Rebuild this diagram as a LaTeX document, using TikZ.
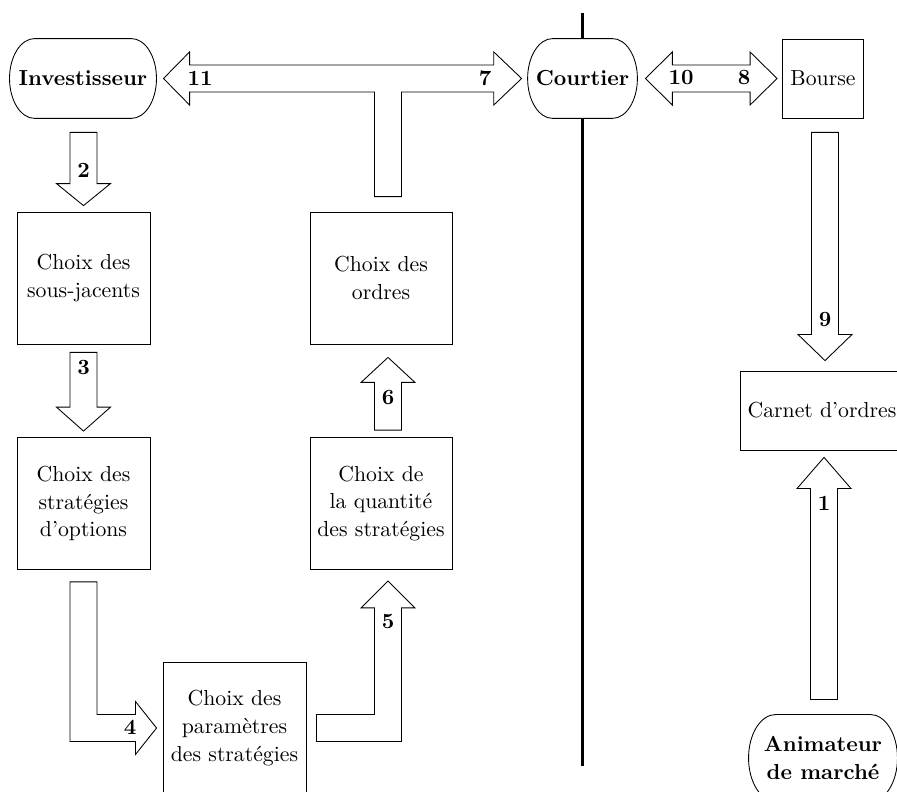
\documentclass[tikz,border=0pt]{standalone}
\usetikzlibrary{calc}
\tikzset{
  box/.style={draw, align=center, inner sep=0.333em, font=\fontsize{10}{12.8}\selectfont},
  term/.style={align=center, inner sep=0.333em, font=\bfseries\fontsize{10}{12.8}\selectfont},
  blk/.style={draw, line width=0.4pt, fill=white, line join=miter},
  num/.style={font=\bfseries, inner sep=1pt},
  sepline/.style={line width=1.8pt},
}
\newcommand\termline[2]{%
  \draw let \p1=(#1.north east), \p2=(#1.south west), \n1={(\y1-\y2)/2} in
    (\x2+#2,\y1) -- (\x1-#2,\y1)
    arc[start angle=90, end angle=-90, x radius=#2, y radius={\n1*1pt}]
    -- (\x2+#2,\y2)
    arc[start angle=270, end angle=90, x radius=#2, y radius={\n1*1pt}] -- cycle;}
\newcommand\blkv[3]{%
  \draw[blk] let \p1=(#1), \p2=(#2) in
    (\x2-6.2pt,\y1) -- (\x2-6.2pt,\y2#3) -- (\x2-12.4pt,\y2#3) -- (\p2)
    -- (\x2+12.4pt,\y2#3) -- (\x2+6.2pt,\y2#3) -- (\x2+6.2pt,\y1) -- cycle;}
\begin{document}
\begin{tikzpicture}[x=0.46pt, y=-0.46pt]
\clip (0,0) rectangle (897,792);
\useasboundingbox (0,0) rectangle (897,792);

% nodes
\node[term, minimum width=67.2pt, minimum height=36.3pt] (inv) at (83,78.5) {Investisseur};
\node[term, minimum width=50.1pt, minimum height=36.3pt] (court) at (582.5,78.5) {Courtier};
\node[box, minimum width=37.3pt, minimum height=36.3pt] (bourse) at (823,78.5) {Bourse};
\node[box, minimum width=61.2pt, minimum height=60.7pt] (sj) at (83.5,278) {Choix des\\sous-jacents};
\node[box, minimum width=61.2pt, minimum height=60.7pt] (opt) at (83.5,503.5) {Choix des\\stratégies\\d’options};
\node[box, minimum width=65.3pt, minimum height=60.7pt] (ord) at (381,278) {Choix des\\ordres};
\node[box, minimum width=65.3pt, minimum height=60.7pt] (qty) at (381,503.5) {Choix de\\la quantité\\des stratégies};
\node[box, minimum width=65.8pt, minimum height=60.7pt] (par) at (234.5,728) {Choix des\\paramètres\\des stratégies};
\node[box, minimum width=75.4pt, minimum height=36.3pt] (carnet) at (822,410.5) {Carnet d’ordres};
\node[term, minimum width=68.1pt, minimum height=39.6pt] (anim) at (823,758) {Animateur\\de marché};
\termline{inv}{11.5pt}
\termline{court}{11.5pt}
\termline{anim}{12.5pt}

% separator line
\coordinate (ltop) at (582.5,13);
\coordinate (lbot) at (582.5,766);
\draw[sepline] (ltop) -- (court.north);
\draw[sepline] (court.south) -- (lbot);

% arrow coordinates
\coordinate (a2s) at ($(inv.south)+(0,14)$);
\coordinate (a2t) at ($(sj.north)+(0,-6)$);
\coordinate (a3s) at ($(sj.south)+(0,8)$);
\coordinate (a3t) at ($(opt.north)+(0,-6)$);
\coordinate (a4s) at ($(opt.south)+(0,12)$);
\coordinate (a4t) at ($(par.west)+(-6,0)$);
\coordinate (a5s) at ($(par.east)+(10,0)$);
\coordinate (a5t) at ($(qty.south)+(7,11)$);
\coordinate (a6s) at ($(qty.north)+(7,-7)$);
\coordinate (a6t) at ($(ord.south)+(7,13)$);
\coordinate (tl) at ($(inv.east)+(7,0)$);
\coordinate (tr) at ($(court.west)+(-6,0)$);
\coordinate (tb) at ($(ord.north)+(7,-15)$);
\coordinate (bl) at ($(court.east)+(8,0)$);
\coordinate (br) at ($(bourse.west)+(-5,0)$);
\coordinate (a9s) at ($(bourse.south)+(2,14)$);
\coordinate (a9t) at ($(carnet.north)+(3,-10)$);
\coordinate (a1s) at ($(anim.north)+(1,-15)$);
\coordinate (a1t) at ($(carnet.south)+(2,7)$);

% straight block arrows
\blkv{a2s}{a2t}{+10.1pt}
\blkv{a3s}{a3t}{+11pt}
\blkv{a6s}{a6t}{-11.5pt}
\blkv{a9s}{a9t}{+12pt}
\blkv{a1s}{a1t}{-14.3pt}

% L-shaped arrow 4
\draw[blk] let \p1=(a4s), \p2=(a4t) in
  (\x1-6.2pt,\y1) -- (\x1-6.2pt,\y2-6.2pt) -- (\x2-9.7pt,\y2-6.2pt) -- (\x2-9.7pt,\y2-12.2pt)
  -- (\p2) -- (\x2-9.7pt,\y2+12.2pt) -- (\x2-9.7pt,\y2+6.2pt) -- (\x1+6.2pt,\y2+6.2pt)
  -- (\x1+6.2pt,\y1) -- cycle;
% L-shaped arrow 5
\draw[blk] let \p1=(a5s), \p2=(a5t) in
  (\x1,\y1+6.2pt) -- (\x2-6.2pt,\y1+6.2pt) -- (\x2-6.2pt,\y2-12.4pt) -- (\x2-12.4pt,\y2-12.4pt)
  -- (\p2) -- (\x2+12.4pt,\y2-12.4pt) -- (\x2+6.2pt,\y2-12.4pt) -- (\x2+6.2pt,\y1-6.2pt)
  -- (\x1,\y1-6.2pt) -- cycle;
% T-shaped double arrow 11 / 7
\draw[blk] let \p1=(tl), \p2=(tr), \p3=(tb) in
  (\p1) -- (\x1+12pt,\y1+12.2pt) -- (\x1+12pt,\y1+6.2pt) -- (\x2-12.8pt,\y1+6.2pt)
  -- (\x2-12.8pt,\y1+12.2pt) -- (\x2,\y1) -- (\x2-12.8pt,\y1-12.2pt) -- (\x2-12.8pt,\y1-6.2pt)
  -- (\x3+6.2pt,\y1-6.2pt) -- (\x3+6.2pt,\y3) -- (\x3-6.2pt,\y3) -- (\x3-6.2pt,\y1-6.2pt)
  -- (\x1+12pt,\y1-6.2pt) -- (\x1+12pt,\y1-12.2pt) -- cycle;
% double arrow 10 / 8
\draw[blk] let \p1=(bl), \p2=(br) in
  (\p1) -- (\x1+12.4pt,\y1+12.2pt) -- (\x1+12.4pt,\y1+6.2pt) -- (\x2-12.4pt,\y1+6.2pt)
  -- (\x2-12.4pt,\y1+12.2pt) -- (\x2,\y1) -- (\x2-12.4pt,\y1-12.2pt) -- (\x2-12.4pt,\y1-6.2pt)
  -- (\x1+12.4pt,\y1-6.2pt) -- (\x1+12.4pt,\y1-12.2pt) -- cycle;

% labels
\node[num] (n1) at (824,503) {1};
\node[num] (n2) at (83.5,170) {2};
\node[num] (n3) at (83.5,367) {3};
\node[num] (n4) at (130,727) {4};
\node[num] (n5) at (388,621) {5};
\node[num] (n6) at (388,397) {6};
\node[num] (n7) at (485,78) {7};
\node[num] (n8) at (744,78) {8};
\node[num] (n9) at (825,320) {9};
\node[num] (n10) at (681,78) {10};
\node[num] (n11) at (200,78) {11};
\end{tikzpicture}
\end{document}
